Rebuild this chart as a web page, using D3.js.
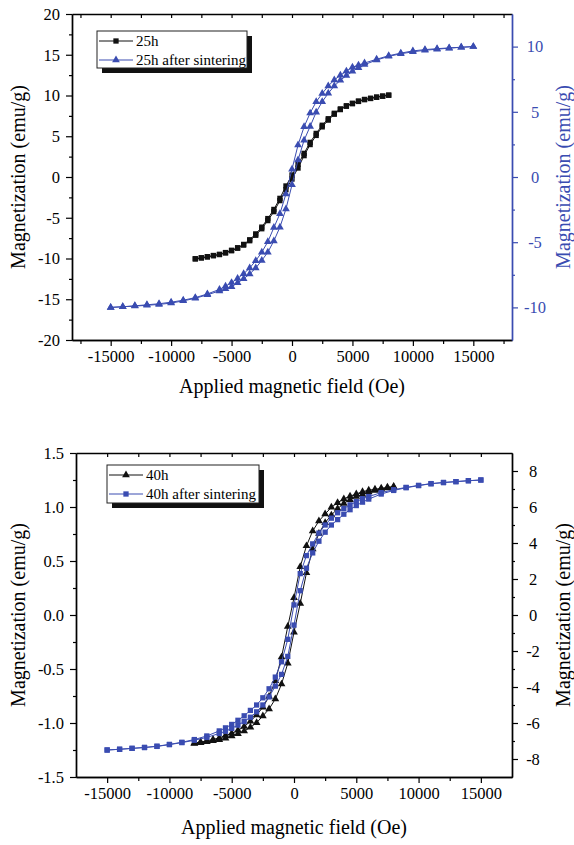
<!DOCTYPE html>
<html>
<head>
<meta charset="utf-8">
<script src="https://cdn.jsdelivr.net/npm/d3@7/dist/d3.min.js"></script>
<style>
  body { margin: 0; background: #fff; }
  svg text { font-family: "Liberation Serif", "Times New Roman", serif; }
</style>
</head>
<body>
<svg id="chart" width="574" height="845"></svg>
<script>
// field values (Oe), outer loop: 1000 Oe steps outside ±6000, 500 Oe steps inside
const fieldLong = [15000, 14000, 13000, 12000, 11000, 10000, 9000, 8000, 7000, 6000,
  5500, 5000, 4500, 4000, 3500, 3000, 2500, 2000, 1500, 1000, 500, 0,
  -500, -1000, -1500, -2000, -2500, -3000, -3500, -4000, -4500, -5000, -5500,
  -6000, -7000, -8000, -9000, -10000, -11000, -12000, -13000, -14000, -15000];
// short loop: ±8000 Oe in 500 Oe steps
const fieldShort = [8000, 7500, 7000, 6500, 6000, 5500, 5000, 4500, 4000, 3500, 3000, 2500, 2000, 1500, 1000, 500, 0,
  -500, -1000, -1500, -2000, -2500, -3000, -3500, -4000, -4500, -5000, -5500, -6000, -6500, -7000, -7500, -8000];

// top panel: 25h (left axis), values along fieldShort (down) and reversed fieldShort (up)
const m25Down = [10.05, 9.93, 9.81, 9.66, 9.52, 9.32, 9.05, 8.74, 8.36, 7.82, 7.15, 6.35, 5.35, 4.25, 2.9, 1.55, 0.25,
  -1.1, -2.62, -3.98, -5.1, -6.15, -6.98, -7.7, -8.27, -8.68, -8.99, -9.27, -9.49, -9.63, -9.78, -9.91, -10.03];
const m25Up = [-10.05, -9.93, -9.81, -9.66, -9.52, -9.32, -9.05, -8.74, -8.36, -7.82, -7.15, -6.35, -5.35, -4.25, -2.9, -1.55, -0.25,
  1.1, 2.62, 3.98, 5.1, 6.15, 6.98, 7.7, 8.27, 8.68, 8.99, 9.27, 9.49, 9.63, 9.78, 9.91, 10.03];
// top panel: 25h after sintering (right axis), along fieldLong
const m25sDown = [10.0, 9.95, 9.9, 9.84, 9.77, 9.67, 9.5, 9.3, 9.03, 8.74,
  8.58, 8.42, 8.12, 7.8, 7.44, 6.98, 6.4, 5.77, 4.9, 3.85, 2.45, 0.6,
  -1.3, -2.82, -3.88, -4.97, -5.77, -6.42, -6.98, -7.42, -7.78, -8.1, -8.38,
  -8.62, -8.97, -9.25, -9.45, -9.6, -9.72, -9.8, -9.88, -9.95, -10.0];
const m25sUp = [-10.0, -9.95, -9.9, -9.84, -9.77, -9.67, -9.5, -9.3, -9.03, -8.74,
  -8.58, -8.42, -8.12, -7.8, -7.44, -6.98, -6.4, -5.77, -4.9, -3.85, -2.45, -0.6,
  1.3, 2.82, 3.88, 4.97, 5.77, 6.42, 6.98, 7.42, 7.78, 8.1, 8.38,
  8.62, 8.97, 9.25, 9.45, 9.6, 9.72, 9.8, 9.88, 9.95, 10.0];

// bottom panel: 40h (left axis)
const m40Down = [1.19, 1.182, 1.173, 1.164, 1.155, 1.142, 1.12, 1.10, 1.075, 1.04, 0.997, 0.935, 0.87, 0.778, 0.64, 0.447, 0.16,
  -0.107, -0.39, -0.61, -0.755, -0.855, -0.925, -0.985, -1.033, -1.068, -1.096, -1.116, -1.138, -1.152, -1.165, -1.176, -1.186];
const m40Up = [-1.19, -1.182, -1.173, -1.164, -1.155, -1.142, -1.12, -1.10, -1.075, -1.04, -0.997, -0.935, -0.87, -0.778, -0.64, -0.447, -0.16,
  0.107, 0.39, 0.61, 0.755, 0.855, 0.925, 0.985, 1.033, 1.068, 1.096, 1.116, 1.138, 1.152, 1.165, 1.176, 1.186];
// bottom panel: 40h after sintering (right axis)
const m40sDown = [7.5, 7.46, 7.41, 7.36, 7.3, 7.2, 7.09, 6.96, 6.8, 6.58,
  6.46, 6.3, 6.12, 5.92, 5.68, 5.38, 5.0, 4.55, 3.95, 3.3, 2.3, 0.56,
  -1.35, -2.6, -3.45, -4.1, -4.6, -5.0, -5.3, -5.6, -5.85, -6.08, -6.27,
  -6.44, -6.72, -6.92, -7.07, -7.19, -7.29, -7.36, -7.41, -7.46, -7.5];
const m40sUp = [-7.5, -7.46, -7.41, -7.36, -7.3, -7.2, -7.09, -6.96, -6.8, -6.58,
  -6.46, -6.3, -6.12, -5.92, -5.68, -5.38, -5.0, -4.55, -3.95, -3.3, -2.3, -0.56,
  1.35, 2.6, 3.45, 4.1, 4.6, 5.0, 5.3, 5.6, 5.85, 6.08, 6.27,
  6.44, 6.72, 6.92, 7.07, 7.19, 7.29, 7.36, 7.41, 7.46, 7.5];

// ticks
const xMajor = [-15000, -10000, -5000, 0, 5000, 10000, 15000];
const xMinor = [-17500, -12500, -7500, -2500, 2500, 7500, 12500, 17500];
const topLeftTicks = [-20, -15, -10, -5, 0, 5, 10, 15, 20];
const topRightTicks = [-10, -5, 0, 5, 10];
const botLeftTicks = [-1.5, -1.0, -0.5, 0.0, 0.5, 1.0, 1.5];
const botRightTicks = [-8, -6, -4, -2, 0, 2, 4, 6, 8];

const blue = "#3a4cb1";
const serif = "'Liberation Serif', 'Times New Roman', serif";
const svg = d3.select("#chart");

// pair a field list with a magnetization list
function pts(field, m) {
  return field.map((h, i) => [h, m[i]]);
}

function minorOf(major, step, domain) {
  const out = [];
  major.forEach(v => out.push(v + step / 2));
  out.push(major[0] - step / 2);
  const lo = Math.min(domain[0], domain[1]), hi = Math.max(domain[0], domain[1]);
  return out.filter(v => v > lo + 1e-9 && v < hi - 1e-9);
}

function drawPanel(cfg) {
  const g = svg.append("g");
  const x = d3.scaleLinear().domain(cfg.xDomain).range([cfg.left, cfg.right]);
  const yL = d3.scaleLinear().domain(cfg.yLDomain).range([cfg.bottom, cfg.top]);
  const yR = d3.scaleLinear().domain(cfg.yRDomain).range([cfg.bottom, cfg.top]);

  const styleAxis = (sel, color) => {
    sel.attr("font-family", serif).attr("font-size", 16.5);
    sel.select(".domain").attr("stroke", color).attr("stroke-width", 1.4);
    sel.selectAll(".tick line").attr("stroke", color).attr("stroke-width", 1.2);
    sel.selectAll(".tick text").attr("fill", color);
  };

  // bottom axis
  const xMin = xMinor.filter(v => v > cfg.xDomain[0] + 1 && v < cfg.xDomain[1] - 1);
  g.append("g").attr("transform", `translate(0,${cfg.bottom})`)
    .call(d3.axisBottom(x).tickValues(xMin).tickSize(4).tickSizeOuter(0).tickFormat(""))
    .call(s => styleAxis(s, "#000"));
  g.append("g").attr("transform", `translate(0,${cfg.bottom})`)
    .call(d3.axisBottom(x).tickValues(xMajor).tickSize(6).tickSizeOuter(0).tickPadding(4).tickFormat(d => String(d)))
    .call(s => styleAxis(s, "#000"));
  // top axis, ticks inward
  g.append("g").attr("transform", `translate(0,${cfg.top})`)
    .call(d3.axisTop(x).tickValues(xMajor.concat(xMin)).tickSize(-4).tickSizeOuter(0).tickFormat(""))
    .call(s => styleAxis(s, "#000"));

  // left axis
  const lStep = cfg.leftTicks[1] - cfg.leftTicks[0];
  g.append("g").attr("transform", `translate(${cfg.left},0)`)
    .call(d3.axisLeft(yL).tickValues(minorOf(cfg.leftTicks, lStep, cfg.yLDomain)).tickSize(3).tickSizeOuter(0).tickFormat(""))
    .call(s => styleAxis(s, "#000"));
  g.append("g").attr("transform", `translate(${cfg.left},0)`)
    .call(d3.axisLeft(yL).tickValues(cfg.leftTicks).tickSize(6).tickSizeOuter(0).tickPadding(6).tickFormat(cfg.fmt))
    .call(s => styleAxis(s, "#000"));

  // right axis
  const rStep = cfg.rightTicks[1] - cfg.rightTicks[0];
  g.append("g").attr("transform", `translate(${cfg.right},0)`)
    .call(d3.axisRight(yR).tickValues(minorOf(cfg.rightTicks, rStep, cfg.yRDomain)).tickSize(3).tickSizeOuter(0).tickFormat(""))
    .call(s => styleAxis(s, cfg.rightColor));
  const rAx = g.append("g").attr("transform", `translate(${cfg.right},0)`)
    .call(d3.axisRight(yR).tickValues(cfg.rightTicks).tickSize(6).tickSizeOuter(0).tickPadding(8).tickFormat(d => String(d)))
    .call(s => styleAxis(s, cfg.rightColor));
  rAx.selectAll(".tick text").attr("text-anchor", "middle").attr("x", cfg.rightLabelX - cfg.right);

  // series: lines then markers
  cfg.series.forEach(s => {
    const y = s.axis === "left" ? yL : yR;
    const line = d3.line().x(d => x(d[0])).y(d => y(d[1]));
    s.branches.forEach(b => {
      g.append("path").attr("d", line(b)).attr("fill", "none")
        .attr("stroke", s.color).attr("stroke-width", 1);
    });
    const sym = d3.symbol().type(s.shape).size(s.size);
    s.branches.forEach(b => {
      g.append("g").selectAll("path").data(b).join("path")
        .attr("d", sym)
        .attr("transform", d => `translate(${x(d[0])},${y(d[1])})`)
        .attr("fill", s.color);
    });
  });

  // legend with drop shadow
  const L = cfg.legend;
  g.append("rect").attr("x", L.x + 5).attr("y", L.y + 5).attr("width", L.w).attr("height", L.h).attr("fill", "#111");
  g.append("rect").attr("x", L.x).attr("y", L.y).attr("width", L.w).attr("height", L.h)
    .attr("fill", "#fff").attr("stroke", "#222").attr("stroke-width", 1);
  cfg.series.forEach((s, i) => {
    const ry = L.y + 10 + i * L.rowGap;
    g.append("line").attr("x1", L.x + 2).attr("x2", L.x + 36).attr("y1", ry).attr("y2", ry)
      .attr("stroke", s.color).attr("stroke-width", 1);
    g.append("path").attr("d", d3.symbol().type(s.shape).size(s.size)())
      .attr("transform", `translate(${L.x + 19},${ry})`).attr("fill", s.color);
    g.append("text").attr("x", L.x + 39).attr("y", ry + 5).style("font-size", "15px").text(s.name);
  });

  // axis titles
  const midY = (cfg.top + cfg.bottom) / 2;
  g.append("text").attr("transform", `translate(${cfg.titleLX},${midY}) rotate(-90)`)
    .attr("text-anchor", "middle").style("font-size", "20px").text("Magnetization (emu/g)");
  g.append("text").attr("transform", `translate(${cfg.titleRX},${midY}) rotate(-90)`)
    .attr("text-anchor", "middle").style("font-size", "20px").attr("fill", cfg.rightColor).text("Magnetization (emu/g)");
  g.append("text").attr("x", (cfg.left + cfg.right) / 2).attr("y", cfg.titleXY)
    .attr("text-anchor", "middle").style("font-size", "20px").text("Applied magnetic field (Oe)");
}

drawPanel({
  left: 72, right: 512, top: 14, bottom: 340,
  xDomain: [-18200, 18200], yLDomain: [-20, 20], yRDomain: [-12.5, 12.5],
  leftTicks: topLeftTicks, rightTicks: topRightTicks, rightColor: blue, rightLabelX: 535,
  fmt: d => String(d),
  titleLX: 25, titleRX: 570, titleXY: 393,
  series: [
    { name: "25h", axis: "left", color: "#111", shape: d3.symbolSquare, size: 28,
      branches: [pts(fieldShort, m25Down), pts(fieldShort.slice().reverse(), m25Up)] },
    { name: "25h after sintering", axis: "right", color: blue, shape: d3.symbolTriangle, size: 26,
      branches: [pts(fieldLong, m25sDown), pts(fieldLong.slice().reverse(), m25sUp)] }
  ],
  legend: { x: 97, y: 31, w: 150, h: 37, rowGap: 19 }
});

drawPanel({
  left: 76, right: 512, top: 453, bottom: 777,
  xDomain: [-17500, 17500], yLDomain: [-1.5, 1.5], yRDomain: [-9, 9],
  leftTicks: botLeftTicks, rightTicks: botRightTicks, rightColor: "#000", rightLabelX: 533,
  fmt: d => d.toFixed(1),
  titleLX: 25, titleRX: 570, titleXY: 834,
  series: [
    { name: "40h", axis: "left", color: "#111", shape: d3.symbolTriangle, size: 26,
      branches: [pts(fieldShort, m40Down), pts(fieldShort.slice().reverse(), m40Up)] },
    { name: "40h after sintering", axis: "right", color: blue, shape: d3.symbolSquare, size: 28,
      branches: [pts(fieldLong, m40sDown), pts(fieldLong.slice().reverse(), m40sUp)] }
  ],
  legend: { x: 107, y: 465, w: 152, h: 38, rowGap: 19 }
});
</script>
</body>
</html>
